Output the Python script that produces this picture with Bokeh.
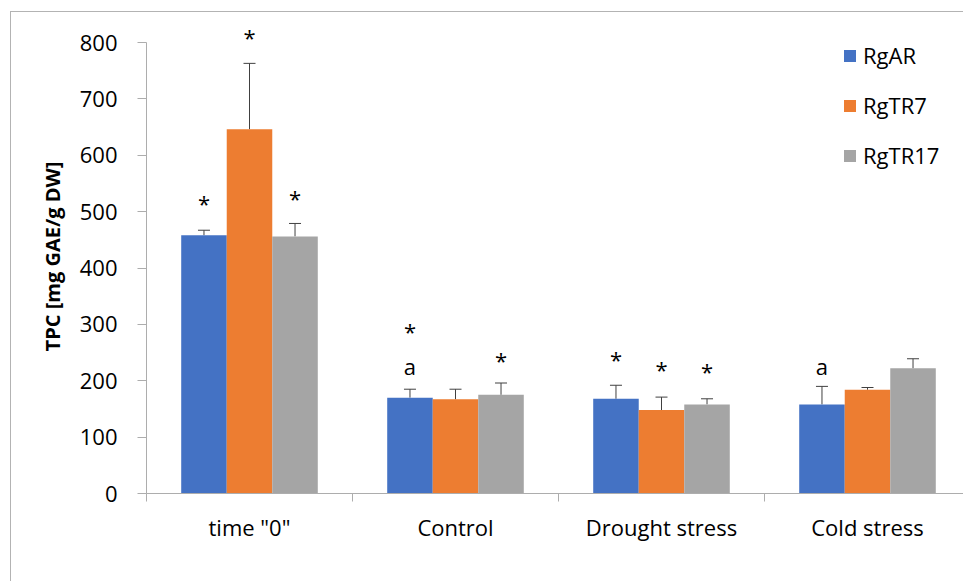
from bokeh.plotting import figure
from bokeh.models import (ColumnDataSource, Range1d, FixedTicker, LinearAxis,
                          Whisker, TeeHead, Legend, LegendItem)
from bokeh.embed import file_html
from bokeh.resources import INLINE
from bokeh.core.properties import value

# ---------------- data ----------------
categories = ['time "0"', "Control", "Drought stress", "Cold stress"]
series = ["RgAR", "RgTR7", "RgTR17"]
rgar = [458, 170, 168, 158]
rgtr7 = [646, 167, 148, 184]
rgtr17 = [456, 175, 158, 222]
rgar_err = [9, 15, 24, 32]
rgtr7_err = [117, 18, 23, 4]
rgtr17_err = [23, 21, 10, 17]
y_ticks = [0, 100, 200, 300, 400, 500, 600, 700, 800]

# significance marks: category index, series index, text, vertical position (data units)
ann_cat = [0, 0, 0, 1, 1, 1, 2, 2, 2, 3]
ann_ser = [0, 1, 2, 0, 0, 2, 0, 1, 2, 0]
ann_txt = ["*", "*", "*", "a", "*", "*", "*", "*", "*", "a"]
ann_y = [516, 809, 525, 226, 289, 236, 238, 220, 217, 227]

# ---------------- style ----------------
colors = ["#4472C4", "#ED7D31", "#A5A5A5"]
FONT = "Open Sans"
AXIS_GRAY = "#ADADAD"
ERR_COLOR = "#404040"
BAR_W = 0.221

values = [rgar, rgtr7, rgtr17]
errors = [rgar_err, rgtr7_err, rgtr17_err]

p = figure(width=953, height=570,
           x_range=Range1d(0, 818 / 206), y_range=Range1d(0, 840.8),
           output_backend="svg", toolbar_location=None,
           min_border_left=135, min_border_top=7,
           min_border_right=0, min_border_bottom=89)
p.styles = {"margin-left": "10px", "margin-top": "11px",
            "border-left": "1px solid #B3B3B3", "border-top": "1px solid #B3B3B3"}
p.xgrid.grid_line_color = None
p.ygrid.grid_line_color = None
p.outline_line_color = None
p.background_fill_color = "white"
p.border_fill_color = "white"

# bars + error bars
renderers = []
for i, (vals, errs) in enumerate(zip(values, errors)):
    xs = [c + 0.5 + (i - 1) * BAR_W for c in range(len(categories))]
    src = ColumnDataSource(dict(x=xs, top=vals,
                                upper=[v + e for v, e in zip(vals, errs)]))
    r = p.vbar(x="x", top="top", width=BAR_W, bottom=0, source=src,
               fill_color=colors[i], line_color=None)
    renderers.append(r)
    w = Whisker(source=src, base="x", lower="top", upper="upper",
                dimension="height", line_color=ERR_COLOR, line_width=1,
                upper_head=TeeHead(size=12, line_color=ERR_COLOR, line_width=1),
                lower_head=None)
    p.add_layout(w)

# annotations
ax = [c + 0.5 + (s - 1) * BAR_W for c, s in zip(ann_cat, ann_ser)]
asrc = ColumnDataSource(dict(x=ax, y=ann_y, text=ann_txt))
p.text(x="x", y="y", text="text", source=asrc, y_offset=0,
       text_align="center", text_baseline="middle",
       text_font=value(FONT), text_font_size="22px", text_color="black")

# y axis
yax = p.yaxis[0]
yax.ticker = FixedTicker(ticks=y_ticks)
yax.bounds = (0, 800)
yax.axis_line_color = AXIS_GRAY
yax.major_tick_line_color = AXIS_GRAY
yax.minor_tick_line_color = None
yax.major_tick_in = 0
yax.major_tick_out = 9
yax.major_label_standoff = 20
yax.major_label_text_font = FONT
yax.major_label_text_font_size = "22px"
yax.major_label_text_color = "black"
yax.axis_label = "TPC [mg GAE/g DW]"
yax.axis_label_text_font = FONT
yax.axis_label_text_font_style = "bold"
yax.axis_label_text_font_size = "20px"
yax.axis_label_text_color = "black"
yax.axis_label_standoff = 11

# x axis: boundary ticks
xax = p.xaxis[0]
xax.ticker = FixedTicker(ticks=[0, 1, 2, 3, 4])
xax.major_label_overrides = {0: "", 1: "", 2: "", 3: "", 4: ""}
xax.major_label_text_font_size = "1px"
xax.axis_line_color = AXIS_GRAY
xax.major_tick_line_color = AXIS_GRAY
xax.minor_tick_line_color = None
xax.major_tick_in = 0
xax.major_tick_out = 8

# x axis: category labels at centres
centers = [c + 0.5 for c in range(len(categories))]
lab_ax = LinearAxis(ticker=FixedTicker(ticks=centers),
                    major_label_overrides={c: n for c, n in zip(centers, categories)},
                    axis_line_color=None, major_tick_line_color=None,
                    minor_tick_line_color=None,
                    major_label_text_font=FONT, major_label_text_font_size="22px",
                    major_label_text_color="black", major_label_standoff=4)
p.add_layout(lab_ax, "below")

# legend
legend = Legend(items=[LegendItem(label=s, renderers=[r]) for s, r in zip(series, renderers)],
                location=(696, 323), orientation="vertical",
                glyph_width=15, glyph_height=15, label_standoff=6, spacing=20,
                padding=0, margin=0, border_line_color=None, background_fill_alpha=0,
                label_text_font=FONT, label_text_font_size="22px", label_text_color="black")
p.add_layout(legend)

open("out.html", "w").write(file_html(p, INLINE))
